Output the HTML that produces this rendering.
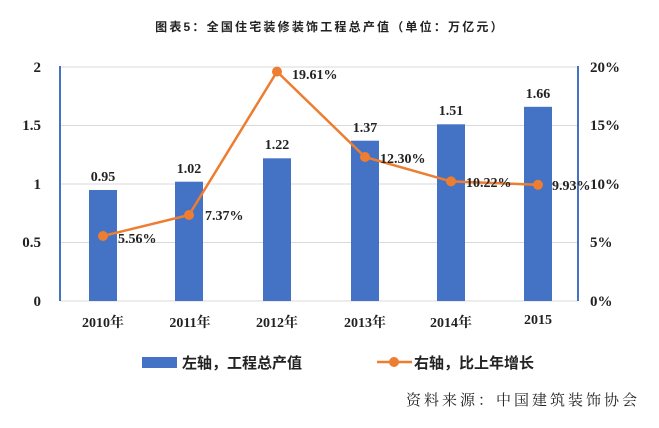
<!DOCTYPE html>
<html><head><meta charset="utf-8"><style>
body{margin:0;background:#fff;}
text{font-family:"Liberation Serif","Noto Serif CJK SC",serif;font-weight:bold;fill:#222;}
.cjk{font-family:"Liberation Sans","Noto Sans CJK SC",sans-serif;}
</style></head><body>
<svg width="659" height="423" xmlns="http://www.w3.org/2000/svg">
<text x="330" y="31" text-anchor="middle" font-size="12" class="cjk" fill="#333" letter-spacing="2.2">图表5：全国住宅装修装饰工程总产值（单位：万亿元）</text>
<g stroke="#d9d9d9" stroke-width="1">
<line x1="60" x2="578" y1="67" y2="67"/><line x1="60" x2="578" y1="125.5" y2="125.5"/>
<line x1="60" x2="578" y1="184" y2="184"/><line x1="60" x2="578" y1="242.5" y2="242.5"/>
<line x1="60" x2="578" y1="301" y2="301"/>
</g>
<g stroke="#4472C4" stroke-width="2"><line x1="60" x2="60" y1="66" y2="301"/><line x1="578" x2="578" y1="66" y2="301"/></g>
<g fill="#4472C4">
<rect x="89" y="190" width="28" height="111"/>
<rect x="175" y="181.7" width="28" height="119.3"/>
<rect x="263" y="158.3" width="28" height="142.7"/>
<rect x="351" y="140.7" width="28" height="160.3"/>
<rect x="437" y="124.3" width="28" height="176.7"/>
<rect x="524" y="106.8" width="28" height="194.2"/>
</g>
<g font-size="14" text-anchor="middle">
<text x="103" y="181">0.95</text><text x="189" y="173">1.02</text><text x="277" y="149">1.22</text>
<text x="365" y="132">1.37</text><text x="451" y="115">1.51</text><text x="538" y="98">1.66</text>
</g>
<polyline points="103,236 189,215 277,71.6 365,157 451,181.4 538,184.8" fill="none" stroke="#ED7D31" stroke-width="2.5"/>
<g fill="#ED7D31">
<circle cx="103" cy="236" r="5"/><circle cx="189" cy="215" r="5"/><circle cx="277" cy="71.6" r="5"/>
<circle cx="365" cy="157" r="5"/><circle cx="451" cy="181.4" r="5"/><circle cx="538" cy="184.8" r="5"/>
</g>
<g font-size="14">
<text x="118" y="243">5.56%</text><text x="205" y="220">7.37%</text><text x="292" y="79">19.61%</text>
<text x="380" y="163">12.30%</text><text x="466" y="187">10.22%</text><text x="552" y="190">9.93%</text>
</g>
<g font-size="15" text-anchor="end">
<text x="41" y="72">2</text><text x="41" y="130">1.5</text><text x="41" y="189">1</text>
<text x="41" y="247">0.5</text><text x="41" y="306">0</text>
</g>
<g font-size="15">
<text x="590" y="72">20%</text><text x="590" y="130">15%</text><text x="590" y="189">10%</text>
<text x="590" y="247">5%</text><text x="590" y="306">0%</text>
</g>
<g font-size="14" text-anchor="middle">
<text x="103" y="327">2010年</text><text x="190" y="327">2011年</text><text x="277" y="327">2012年</text>
<text x="365" y="327">2013年</text><text x="451" y="327">2014年</text><text x="538" y="324">2015</text>
</g>
<rect x="142" y="357" width="35" height="11" fill="#4472C4"/>
<text x="182" y="368" font-size="15" class="cjk">左轴，工程总产值</text>
<line x1="377" x2="412" y1="362" y2="362" stroke="#ED7D31" stroke-width="2.5"/>
<circle cx="394" cy="362" r="5" fill="#ED7D31"/>
<text x="414" y="368" font-size="15" class="cjk">右轴，比上年增长</text>
<text x="640" y="405" font-size="15" text-anchor="end" letter-spacing="3" style="font-weight:normal;font-family:'Noto Serif CJK SC',serif" fill="#333">资料来源：中国建筑装饰协会</text>
</svg>
</body></html>
